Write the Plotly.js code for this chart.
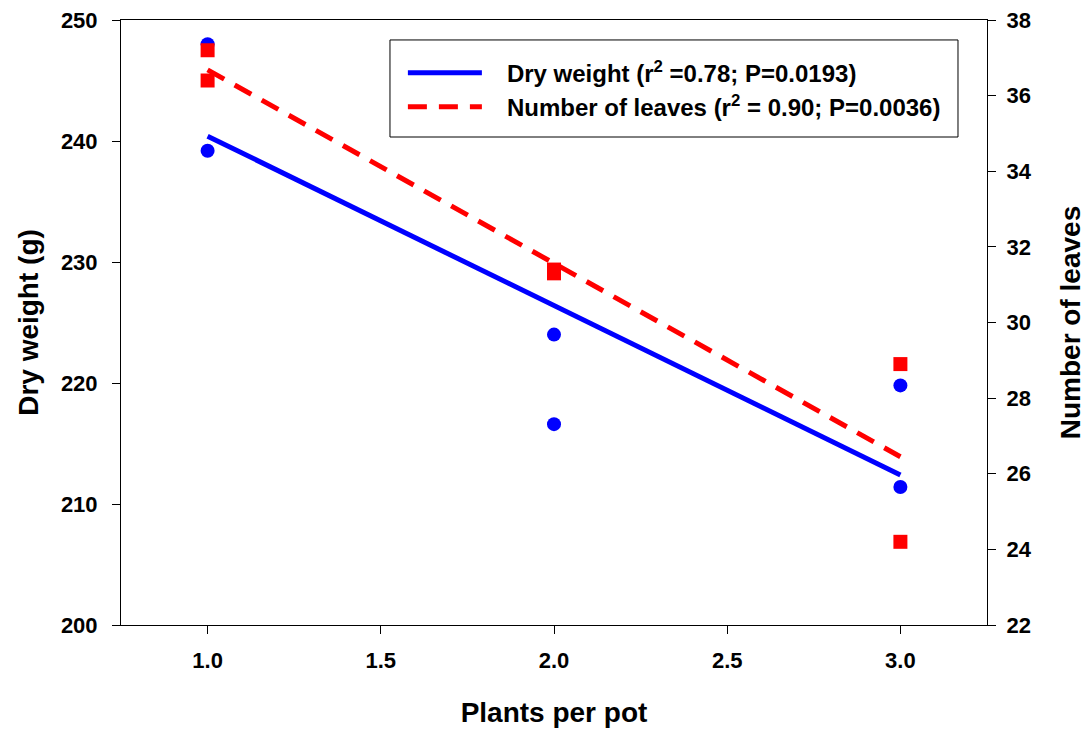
<!DOCTYPE html>
<html>
<head>
<meta charset="utf-8">
<script src="https://cdn.plot.ly/plotly-3.0.1.min.js"></script>
<style>html,body{margin:0;padding:0;background:#fff;}#chart{width:1089px;height:732px;}</style>
</head>
<body>
<div id="chart"></div>
<script>
var plantsPerPot = [1, 1, 2, 2, 3, 3];
var dryWeight    = [248.0, 239.2, 224.0, 216.6, 219.8, 211.4];
var leafCount    = [37.2, 36.4, 31.4, 31.3, 28.9, 24.2];

// Regression line end points
var fitX         = [1, 3];
var dryWeightFit = [240.4, 212.4];
var leafCountFit = [36.68, 26.45];

var GAP = '\u00a0\u00a0\u00a0';
var dryName    = GAP + 'Dry weight (r<sup>2</sup> =0.78; P=0.0193)';
var leavesName = GAP + 'Number of leaves (r<sup>2</sup> = 0.90; P=0.0036)';

var FONT = 'Liberation Sans, Arial, Helvetica, sans-serif';

var traces = [
  {x: plantsPerPot, y: dryWeight, type: 'scatter', mode: 'markers', showlegend: false,
   marker: {symbol: 'circle', size: 14, color: '#0000FF', line: {width: 0}}, xaxis: 'x', yaxis: 'y'},
  {x: fitX, y: dryWeightFit, type: 'scatter', mode: 'lines', name: dryName,
   line: {color: '#0000FF', width: 5}, xaxis: 'x', yaxis: 'y'},
  {x: plantsPerPot, y: leafCount, type: 'scatter', mode: 'markers', showlegend: false,
   marker: {symbol: 'square', size: 14, color: '#FF0000', line: {width: 0}}, xaxis: 'x', yaxis: 'y2'},
  {x: fitX, y: leafCountFit, type: 'scatter', mode: 'lines', name: leavesName,
   line: {color: '#FF0000', width: 5, dash: '19px,12px'}, xaxis: 'x', yaxis: 'y2'}
];

var tickFont = {family: FONT, size: 22, color: '#000', weight: 'bold'};
var titleFont = {family: FONT, size: 28, color: '#000', weight: 'bold'};

var layout = {
  width: 1089, height: 732,
  margin: {l: 121, r: 102, t: 20, b: 107, pad: 0},
  paper_bgcolor: '#fff', plot_bgcolor: '#fff',
  font: {family: FONT, color: '#000'},
  xaxis: {
    range: [0.75, 3.25], tickmode: 'linear', tick0: 1, dtick: 0.5, tickformat: '.1f',
    showgrid: false, zeroline: false, showline: true, linecolor: '#000', linewidth: 1, mirror: true,
    ticks: 'outside', ticklen: 8, tickwidth: 1, tickcolor: '#000',
    tickfont: tickFont, ticklabelstandoff: 8,
    title: {text: 'Plants per pot', font: titleFont, standoff: 29}
  },
  yaxis: {
    range: [200, 250], tickmode: 'linear', tick0: 200, dtick: 10,
    showgrid: false, zeroline: false, showline: true, linecolor: '#000', linewidth: 1,
    ticks: 'outside', ticklen: 8, tickwidth: 1, tickcolor: '#000',
    tickfont: tickFont, ticklabelstandoff: 10,
    title: {text: 'Dry weight (g)', font: titleFont, standoff: 14}
  },
  yaxis2: {
    range: [22, 38], tickmode: 'linear', tick0: 22, dtick: 2,
    overlaying: 'y', side: 'right', anchor: 'x',
    showgrid: false, zeroline: false, showline: true, linecolor: '#000', linewidth: 1,
    ticks: 'outside', ticklen: 8, tickwidth: 1, tickcolor: '#000',
    tickfont: tickFont, ticklabelstandoff: 6,
    title: {text: 'Number of leaves', font: titleFont, standoff: 29}
  },
  showlegend: true,
  legend: {
    x: 0.3255, y: 0.9495, xanchor: 'left', yanchor: 'top',
    bgcolor: 'rgba(0,0,0,0)', borderwidth: 0,
    font: {family: FONT, size: 24, color: '#000', weight: 'bold'},
    itemwidth: 74, traceorder: 'normal'
  },
  shapes: [
    {type: 'rect', xref: 'paper', yref: 'paper', x0: 0.3106, x1: 0.9665, y0: 0.8066, y1: 0.967,
     line: {color: '#000', width: 1}, fillcolor: 'rgba(0,0,0,0)', layer: 'above'}
  ]
};

Plotly.newPlot('chart', traces, layout, {displayModeBar: false, staticPlot: true});
</script>
</body>
</html>
